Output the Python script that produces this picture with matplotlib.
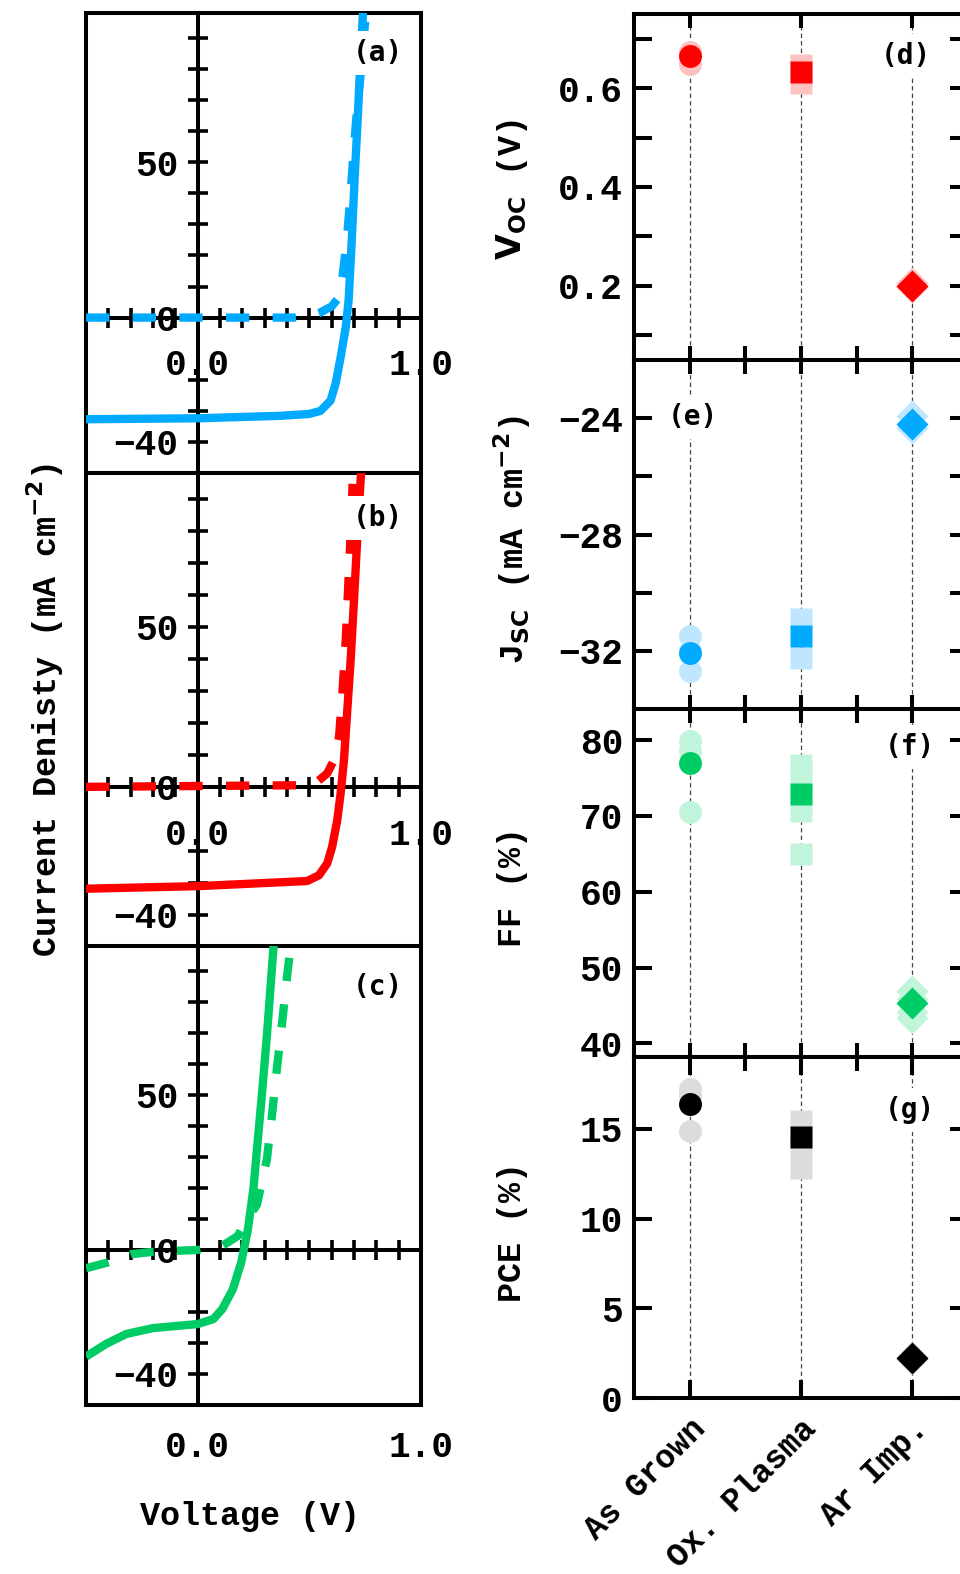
import matplotlib
matplotlib.use('Agg')
import matplotlib.pyplot as plt
from matplotlib.patches import Rectangle
from matplotlib.ticker import FixedLocator

plt.rcParams['font.family'] = ['Liberation Mono', 'DejaVu Sans']
plt.rcParams['font.weight'] = 'bold'
plt.rcParams['mathtext.fontset'] = 'dejavusans'

# ---------------- data ----------------
# (a) As Grown J-V (light = solid, dark = dashed)
a_light_v = [-0.50, 0.00, 0.37, 0.50, 0.55, 0.595, 0.618, 0.640, 0.663, 0.676, 0.690, 0.703, 0.718, 0.732, 0.742]
a_light_j = [-32.7, -32.4, -31.6, -31.0, -30.0, -26.7, -21.2, -12.8, -3.1, 5.6, 25.0, 45.0, 66.0, 88.0, 100]
a_dark_v = [-0.50, 0.44, 0.50, 0.542, 0.600, 0.632, 0.650, 0.668, 0.685, 0.700, 0.715, 0.735, 0.755]
a_dark_j = [0.0, 0.0, 0.3, 1.4, 3.6, 6.5, 14.0, 25.0, 40.0, 55.0, 68.0, 82.0, 100]

# (b) Ox. Plasma J-V
b_light_v = [-0.50, 0.00, 0.49, 0.543, 0.580, 0.602, 0.625, 0.640, 0.655, 0.670, 0.685, 0.700, 0.715, 0.733]
b_light_j = [-31.8, -31.0, -29.4, -27.6, -23.9, -18.75, -10.4, -2.1, 8.3, 24.0, 39.6, 58.3, 78.1, 100]
b_dark_v = [-0.50, 0.446, 0.535, 0.580, 0.610, 0.633, 0.648, 0.663, 0.674, 0.685, 0.697]
b_dark_j = [0.0, 0.5, 1.6, 4.2, 8.3, 15.6, 29.2, 45.8, 62.5, 79.2, 100]

# (c) Ar Imp. J-V
c_light_v = [-0.50, -0.41, -0.32, -0.20, 0.00, 0.07, 0.11, 0.158, 0.195, 0.225, 0.250, 0.270, 0.290, 0.312, 0.342]
c_light_j = [-34.4, -30.3, -27.1, -25.2, -23.9, -22.3, -19.1, -12.6, -4.0, 6.6, 20.0, 36.0, 52.0, 71.0, 100]
c_dark_v = [-0.50, -0.405, -0.30, -0.20, 0.00, 0.11, 0.18, 0.22, 0.265, 0.31, 0.333, 0.355, 0.378, 0.40, 0.42]
c_dark_j = [-5.9, -4.1, -1.4, -0.6, 0.0, 1.3, 4.5, 9.9, 14.5, 29.2, 43.6, 58.6, 73.1, 88.1, 100]

categories = ['As Grown', 'Ox. Plasma', 'Ar Imp.']

voc_best = [0.665, 0.632, 0.200]
voc_all = [[0.673, 0.648], [0.646, 0.610], [0.206, 0.198]]
jsc_best = [-32.07, -31.5, -24.2]
jsc_all = [[-31.5, -32.0, -32.7], [-30.9, -32.25], [-23.93, -24.35]]
ff_best = [77.0, 72.9, 45.3]
ff_all = [[79.9, 78.6, 70.5], [76.7, 74.5, 70.6, 65.0], [46.9, 45.8, 44.2, 43.3]]
pce_best = [16.4, 14.55, 2.23]
pce_all = [[17.2, 16.9, 14.9], [15.45, 14.0, 12.8], [2.3, 2.15]]

# ---------------- figure ----------------
W, H = 960, 1574
fig = plt.figure(figsize=(W / 100, H / 100), dpi=100)


def px_axes(x0, x1, y0, y1):
    return fig.add_axes([x0 / W, 1 - y1 / H, (x1 - x0) / W, (y1 - y0) / H])


TICK_FS = 26
LAB_FS = 24
CAT_FS = 23.5
LET_FS = 20
LW_SP = 2.9

blue, blue_l = '#00aaff', '#c0e6ff'
red, red_l = '#ff0000', '#ffc0c0'
green, green_l = '#00cc66', '#c0f5dc'
black, black_l = '#000000', '#dcdcdc'

left_specs = [
    (13, 473, a_light_v, a_light_j, a_dark_v, a_dark_j, blue, '(a)', 0.913),
    (473, 947, b_light_v, b_light_j, b_dark_v, b_dark_j, red, '(b)', 0.905),
    (946, 1405, c_light_v, c_light_j, c_dark_v, c_dark_j, green, '(c)', 0.911),
]

for k, (y0, y1, lv, lj, dv, dj, col, lab, ly) in enumerate(left_specs):
    ax = px_axes(86, 421, y0, y1)
    ax.set_xlim(-0.5, 1.0)
    ax.set_ylim(-50, 98)
    ax.spines['left'].set_position(('data', 0))
    ax.spines['bottom'].set_position(('data', 0))
    ax.spines['top'].set_visible(False)
    ax.spines['right'].set_visible(False)
    for s in ('left', 'bottom'):
        ax.spines[s].set_linewidth(LW_SP)
    ax.add_patch(Rectangle((0, 0), 1, 1, transform=ax.transAxes, fill=False,
                           lw=LW_SP, ec='k', zorder=2.6, clip_on=False))
    ax.xaxis.set_ticks_position('bottom')
    ax.yaxis.set_ticks_position('left')
    ax.set_yticks([-40, 0, 50])
    ax.set_yticklabels(['\u221240', '0', '50'])
    ax.yaxis.set_minor_locator(FixedLocator([-30, -20, 10, 20, 30, 40, 60, 70, 80, 90]))
    ax.set_xticks([0, 1])
    ax.xaxis.set_minor_locator(FixedLocator([-0.4, -0.3, -0.2, -0.1, 0.1, 0.2, 0.3, 0.4,
                                              0.5, 0.6, 0.7, 0.8, 0.9]))
    ax.tick_params(axis='both', which='both', direction='inout', length=14.4, width=2.6)
    ax.tick_params(axis='y', which='major', labelsize=TICK_FS, pad=7)
    ax.tick_params(axis='x', which='major', labelsize=TICK_FS, pad=15)
    if k < 2:
        ax.set_xticklabels(['0.0', '1.0'])
    else:
        ax.set_xticklabels(['', ''])
        sec = ax.secondary_xaxis('bottom')
        sec.set_xticks([0, 1])
        sec.set_xticklabels(['0.0', '1.0'])
        sec.tick_params(length=0, labelsize=TICK_FS, pad=18)
        sec.spines['bottom'].set_visible(False)
    ax.plot(lv, lj, color=col, lw=6, solid_capstyle='butt', solid_joinstyle='round', zorder=3)
    ax.plot(dv, dj, color=col, lw=6, ls=(0, (2.8, 2.8)), dash_capstyle='butt', zorder=3)
    ax.text(0.872, ly, lab, transform=ax.transAxes, ha='center', va='center',
            fontsize=LET_FS, family='DejaVu Sans Mono', weight='bold', zorder=6,
            bbox=dict(boxstyle='square,pad=0.3', fc='white', ec='none'))

fig.text(45 / W, 1 - 710 / H, 'Current Denisty (mA cm$^{\\mathbf{-2}}$)', rotation=90,
         ha='center', va='center', fontsize=LAB_FS)
fig.text(250 / W, 1 - 1517 / H, 'Voltage (V)', ha='center', va='center', fontsize=LAB_FS)

# ---------------- right column ----------------
markers = ['o', 's', 'D']
right_specs = [
    (14, 360, voc_best, voc_all, red, red_l, (0.05, 0.75), [0.2, 0.4, 0.6], ['0.2', '0.4', '0.6'],
     [0.1, 0.3, 0.5, 0.7], '(d)', (0.814, 0.879), r'$\mathbf{V}_{\mathrm{OC}}$ (V)', 190),
    (360, 709, jsc_best, jsc_all, blue, blue_l, (-34, -22), [-32, -28, -24],
     ['\u221232', '\u221228', '\u221224'], [-30, -26], '(e)', (0.177, 0.837),
     r'J$_{\mathrm{SC}}$ (mA cm$^{\mathbf{-2}}$)', 540),
    (709, 1057, ff_best, ff_all, green, green_l, (38.2, 84.1), [40, 50, 60, 70, 80],
     ['40', '50', '60', '70', '80'], [], '(f)', (0.826, 0.891), 'FF (%)', 887),
    (1057, 1398, pce_best, pce_all, black, black_l, (0, 19), [0, 5, 10, 15],
     ['0', '5', '10', '15'], [], '(g)', (0.826, 0.845), 'PCE (%)', 1232),
]

for k, (y0, y1, best, allv, col, coll, ylim, yt, ytl, ymin, lab, lpos, ylab, ylab_y) in enumerate(right_specs):
    ax = px_axes(634, 968, y0, y1)
    ax.set_xlim(-0.5, 2.5)
    ax.set_ylim(*ylim)
    for s in ax.spines.values():
        s.set_linewidth(LW_SP)
    ax.set_yticks(yt)
    ax.set_yticklabels(ytl)
    ax.yaxis.set_minor_locator(FixedLocator(ymin))
    ax.set_xticks([0, 1, 2])
    ax.xaxis.set_minor_locator(FixedLocator([0.5, 1.5]))
    ax.tick_params(axis='y', which='both', direction='in', length=13, width=2.9,
                   left=True, right=True, labelsize=TICK_FS, pad=8)
    ax.tick_params(axis='x', which='both', direction='in', length=10, width=2.9,
                   top=True, bottom=True)
    ax.tick_params(axis='x', which='minor', top=(k != 0), bottom=(k != 3))
    for i in range(len(categories)):
        ax.axvline(i, color='#444444', lw=0.9, ls=(0, (3.5, 2.5)), zorder=1)
    for i, (b, vals) in enumerate(zip(best, allv)):
        ax.plot([i] * len(vals), vals, ls='none', marker=markers[i], ms=16.5,
                color=coll, mec='none', zorder=3, clip_on=False)
        ax.plot([i], [b], ls='none', marker=markers[i], ms=16.5,
                color=col, mec='none', zorder=4, clip_on=False)
    ax.text(lpos[0], lpos[1], lab, transform=ax.transAxes, ha='center', va='center',
            fontsize=LET_FS, family='DejaVu Sans Mono', weight='bold', zorder=6,
            bbox=dict(boxstyle='square,pad=0.3', fc='white', ec='none'))
    fig.text(512 / W, 1 - ylab_y / H, ylab, rotation=90, ha='center', va='center',
             fontsize=LAB_FS)
    if k == 3:
        ax.set_xticklabels(categories, rotation=45, ha='right', rotation_mode='anchor',
                           fontsize=CAT_FS)
        ax.tick_params(axis='x', which='major', pad=11, length=13)
    else:
        ax.set_xticklabels(['', '', ''])

fig.savefig('out.png', dpi=100)
